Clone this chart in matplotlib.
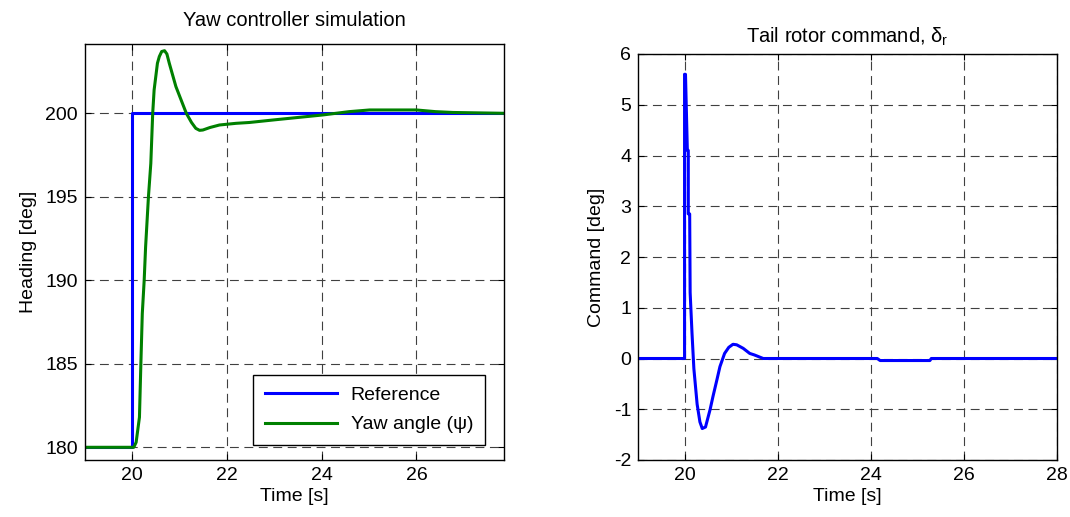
import matplotlib
matplotlib.use("Agg")
import matplotlib.pyplot as plt

plt.rcParams['font.family'] = ['Liberation Sans', 'DejaVu Sans']
plt.rcParams['axes.unicode_minus'] = False
plt.rcParams['mathtext.fontset'] = 'custom'
plt.rcParams['mathtext.rm'] = 'Liberation Sans'

# Left panel data
ref_t = [19.0, 20.0, 20.0, 27.85]
ref_y = [180.0, 180.0, 200.0, 200.0]

yaw_t = [19.0, 20.03, 20.08, 20.15, 20.18, 20.21, 20.25, 20.28, 20.34, 20.39, 20.43,
         20.46, 20.53, 20.57, 20.62, 20.68, 20.73, 20.78, 20.92, 21.03, 21.14, 21.25,
         21.34, 21.42, 21.49, 21.64, 21.84, 22.19, 22.47, 23.04, 23.53, 24.02, 24.3,
         24.58, 25.01, 26.0, 26.4, 26.77, 27.85]
yaw_y = [180.0, 180.0, 180.3, 181.8, 185.0, 188.0, 190.0, 192.0, 195.0, 197.0, 200.0,
         201.4, 203.0, 203.4, 203.7, 203.75, 203.55, 203.0, 201.6, 200.8, 200.0, 199.45,
         199.1, 198.98, 199.0, 199.15, 199.3, 199.4, 199.45, 199.62, 199.76, 199.9, 200.0,
         200.1, 200.2, 200.2, 200.1, 200.05, 200.0]

# Right panel data
cmd_t = [19.0, 20.0, 20.0, 20.02, 20.06, 20.08, 20.08, 20.11, 20.12, 20.16, 20.2,
         20.27, 20.33, 20.38, 20.45, 20.55, 20.61, 20.7, 20.76, 20.86, 20.95, 21.04,
         21.12, 21.26, 21.4, 21.5, 21.69, 24.14, 24.2, 25.27, 25.3, 28.0]
cmd_y = [0.0, 0.0, 5.6, 5.6, 4.1, 4.1, 2.85, 2.85, 1.3, 0.5, -0.2,
         -0.9, -1.25, -1.38, -1.35, -1.0, -0.75, -0.4, -0.16, 0.1, 0.22, 0.28,
         0.27, 0.2, 0.1, 0.07, 0.0, 0.0, -0.04, -0.04, 0.0, 0.0]

left_xticks = [20, 22, 24, 26]
left_yticks = [180, 185, 190, 195, 200]
right_xticks = [20, 22, 24, 26, 28]
right_yticks = [-2, -1, 0, 1, 2, 3, 4, 5, 6]

fig = plt.figure(figsize=(10.7, 5.17), dpi=100)
ax1 = fig.add_axes([85/1070, 57/517, 419/1070, 416/517])
ax2 = fig.add_axes([638/1070, 57/517, 419/1070, 406/517])

FS = 14
LW = 2.2

def style(ax):
    ax.grid(True, color='0.25', linestyle=(0, (8, 5)), linewidth=0.8)
    ax.tick_params(direction='in', top=True, right=True, length=4, labelsize=FS, pad=5)
    for s in ax.spines.values():
        s.set_linewidth(1.0)
        s.set_color('black')

ax1.plot(ref_t, ref_y, color='#0000ff', lw=LW, label='Reference')
ax1.plot(yaw_t, yaw_y, color='#008000', lw=LW, label='Yaw angle (ψ)')
ax1.set_xlim(19, 27.85)
ax1.set_ylim(179.24, 204.15)
ax1.set_xticks(left_xticks)
ax1.set_yticks(left_yticks)
style(ax1)
ax1.set_xlabel('Time [s]', fontsize=FS, labelpad=3)
ax1.set_ylabel('Heading [deg]', fontsize=FS, labelpad=6)
ax1.set_title('Yaw controller simulation', fontsize=14.5, pad=13)
leg = ax1.legend(loc='lower right', bbox_to_anchor=(0.968, 0.022), fontsize=FS,
                 fancybox=False, framealpha=1, edgecolor='black', handlelength=3.7,
                 borderpad=0.6, labelspacing=0.6, handletextpad=0.7, borderaxespad=0.3)
leg.get_frame().set_linewidth(1.0)

ax2.plot(cmd_t, cmd_y, color='#0000ff', lw=LW)
ax2.set_xlim(19, 28)
ax2.set_ylim(-2, 6)
ax2.set_xticks(right_xticks)
ax2.set_yticks(right_yticks)
style(ax2)
ax2.set_xlabel('Time [s]', fontsize=FS, labelpad=3)
ax2.set_ylabel('Command [deg]', fontsize=FS, labelpad=6)
ax2.set_title('Tail rotor command, δ$_\\mathregular{r}$', fontsize=14.5, pad=8)

fig.savefig('out.png', dpi=100)
